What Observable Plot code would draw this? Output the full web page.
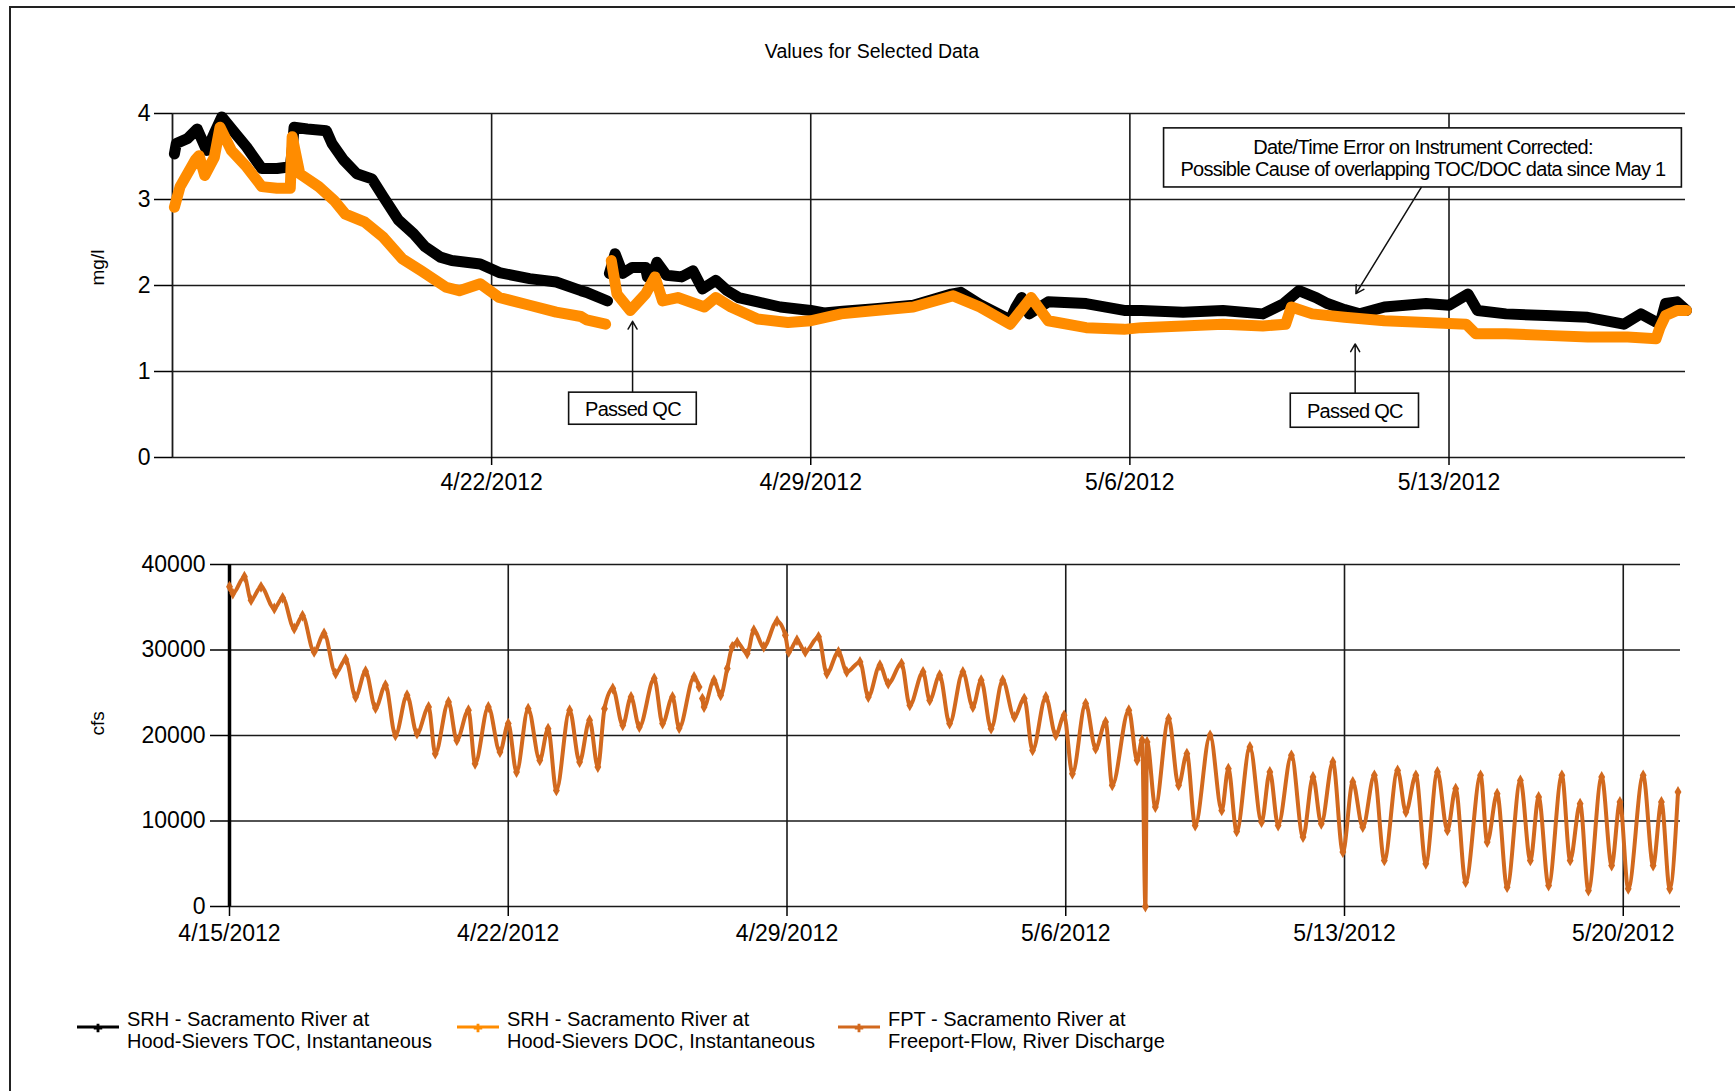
<!DOCTYPE html>
<html><head><meta charset="utf-8">
<script src="https://cdn.jsdelivr.net/npm/d3@7"></script>
<script src="https://cdn.jsdelivr.net/npm/@observablehq/plot@0.6"></script>
<style>
html,body{margin:0;padding:0;background:#fff;}
body{width:1735px;height:1091px;position:relative;overflow:hidden;font-family:"Liberation Sans",Arial,sans-serif;color:#000;}
#frame{position:absolute;left:9px;top:6px;width:1800px;height:1200px;border-left:2px solid #222;border-top:2px solid #222;}
#title{position:absolute;left:0;width:1744px;top:39px;text-align:center;font-size:19.5px;line-height:24px;}
#top{position:absolute;left:0;top:0;}
#bottom{position:absolute;left:0;top:510px;}
.leg{position:absolute;top:1008px;height:44px;}
.leg svg{position:absolute;left:0;top:0;}
.leg div{position:absolute;left:50px;top:0;font-size:20px;line-height:22px;white-space:nowrap;}
</style></head>
<body>
<div id="frame"></div>
<div id="title">Values for Selected Data</div>
<div id="top"></div>
<div id="bottom"></div>
<div id="legend"></div>
<script>
// ---------- DATA (hours after 4/15/2012 00:00) ----------
const tocHours = [1,2,8,13,18,22,26,33,39,47,55,62,63,64,71,81,84,90,97,105,111,119,127,133,141,147,162,172,188,202,215,218,229,
  229.5,
  230,233,237,242,249,250,
  251.5,
  253,255,260,268,274,279,286,292,298,308,320,336,343,353,370,390,410,415,425,441,444,447,451,461,481,501,510,532,553,574,585,593,602,608,617,625,638,660,672,682,687,702,723,745,764,773,783,786,792,797];
const tocValues = [3.53,3.65,3.71,3.82,3.57,3.77,3.96,3.77,3.61,3.36,3.36,3.38,3.57,3.84,3.82,3.80,3.65,3.46,3.30,3.24,3.03,2.76,2.60,2.45,2.33,2.29,2.25,2.15,2.08,2.04,1.94,1.92,1.82,
  null,
  2.14,2.37,2.14,2.21,2.21,2.10,
  null,
  2.15,2.27,2.12,2.10,2.17,1.96,2.06,1.94,1.86,1.81,1.75,1.71,1.68,1.70,1.73,1.77,1.90,1.92,1.78,1.60,1.75,1.86,1.67,1.81,1.79,1.71,1.71,1.69,1.71,1.67,1.79,1.94,1.86,1.79,1.72,1.67,1.75,1.79,1.77,1.90,1.71,1.67,1.65,1.63,1.55,1.67,1.55,1.79,1.81,1.71];

const docHours = [1,4,12,14,17,22,25,31,39,47,55,62,63,67,77,85,91,101,111,121,131,144,151,162,172,188,202,215,218,228,
  229.5,
  231,234,241,249,254,258,266,280,286,294,308,324,336,352,370,390,411,425,441,452,461,481,501,510,532,553,574,586,589,600,617,638,660,681,686,702,723,745,766,781,783,786,792,797];
const docValues = [2.91,3.15,3.46,3.51,3.28,3.49,3.84,3.57,3.38,3.15,3.13,3.13,3.73,3.30,3.15,2.99,2.83,2.74,2.56,2.31,2.17,1.98,1.94,2.02,1.86,1.77,1.69,1.64,1.60,1.55,
  null,
  2.29,1.90,1.71,1.90,2.10,1.82,1.86,1.75,1.86,1.75,1.61,1.57,1.59,1.67,1.71,1.75,1.88,1.75,1.55,1.86,1.59,1.51,1.49,1.51,1.53,1.55,1.53,1.55,1.75,1.67,1.63,1.59,1.57,1.55,1.44,1.44,1.42,1.40,1.40,1.38,1.51,1.65,1.71,1.71];

const flowHours = [0,2,9,13,19,27,32,39,44,51,57,64,70,76,82,88,94,100,107,113,120,124,132,137,144,148,156,163,168,173,
  180,187,192,197,205,211,217,222,226,231,237,242,247,256,261,267,271,280,283,284,285,286,292,296,300,303,306,312,316,322,
  330,335,337,342,347,355,360,367,372,380,385,392,397,405,410,418,422,428,434,442,448,453,459,466,473,479,484,492,498,503,
  508,516,522,528,532,542,547,550,552,553,558,566,572,577,582,591,598,602,607,615,622,627,632,640,647,653,658,665,671,677,
  683,690,696,704,709,715,721,728,734,739,745,754,758,764,770,778,784,789,795,803,808,814,819,827,833,838,843,852,858,863,868,873];
const flowValues = [37400,36600,38560,35830,37390,34850,36100,32510,34000,29780,31930,27240,28920,24510,27520,23220,25880,20020,24710,20220,
  23340,17880,23930,19440,22950,16700,23340,18070,21390,15730,23140,17100,20800,13580,22950,16900,21780,16310,23140,25490,
  21190,24510,21000,26660,21390,24510,20880,26850,25680,null,24320,23340,26460,24710,27830,30370,30870,29590,32320,30370,
  33370,31730,29780,31150,29780,31540,27240,29780,27440,28610,24510,28220,26070,28410,23530,27440,24120,27050,21390,27440,
  23340,26460,20800,26460,22170,24320,18270,24510,20020,22360,15530,23730,18460,21580,14170,22950,17100,19440,0,19240,
  11630,21970,14170,17880,9480,20020,11240,16120,8780,18660,9870,15730,9480,17680,8120,15140,9680,16900,6360,14560,
  9290,15340,5390,15920,11050,15340,5000,15730,8900,13780,2850,15340,7530,13190,2260,14750,5390,12800,2460,15340,
  5390,12020,1870,15140,4800,12220,2070,15340,4800,12220,2070,13390];

const topTickDays = [7,14,21,28];             // 4/22, 4/29, 5/6, 5/13 (days after 4/15)
const bottomTickDays = [0,7,14,21,28,35];     // 4/15 ... 5/20
const topYTicks = [0,1,2,3,4];
const bottomYTicks = [0,10000,20000,30000,40000];

// annotations (hours, mg/l)
const boxText = ["Passed QC","Passed QC","Date/Time Error on Instrument Corrected:\nPossible Cause of overlapping TOC/DOC data since May 1"];
const boxH1 = [208.8,588.7,522];
const boxH2 = [276,656.2,794.6];
const boxV1 = [0.381,0.346,3.14];
const boxV2 = [0.754,0.742,3.827];
const arrowH1 = [242.2,622.6,657.4];
const arrowV1 = [0.754,0.742,3.14];
const arrowH2 = [242.2,622.6,623];
const arrowV2 = [1.584,1.321,1.905];

const legendLine1 = ["SRH - Sacramento River at","SRH - Sacramento River at","FPT - Sacramento River at"];
const legendLine2 = ["Hood-Sievers TOC, Instantaneous","Hood-Sievers DOC, Instantaneous","Freeport-Flow, River Discharge"];

// ---------- BUILD ----------
const T0 = Date.UTC(2012,3,15);
const hr = h => new Date(T0 + h*3600e3);
const fmt = d => `${d.getUTCMonth()+1}/${d.getUTCDate()}/${d.getUTCFullYear()}`;
const FONT = '"Liberation Sans", Arial, sans-serif';
const cToc = "#000000", cDoc = "#FF8C00", cFlow = "#D2691E";
const gridC = "#1a1a1a";

const toc = tocHours.map((h,i)=>({t:hr(h), v:tocValues[i]}));
const doc = docHours.map((h,i)=>({t:hr(h), v:docValues[i]}));
const flow = flowHours.map((h,i)=>({t:hr(h), v:flowValues[i]}));
const boxes = boxText.map((s,i)=>({x1:hr(boxH1[i]),x2:hr(boxH2[i]),y1:boxV1[i],y2:boxV2[i],text:s,xm:hr((boxH1[i]+boxH2[i])/2),ym:(boxV1[i]+boxV2[i])/2}));
const arrows = arrowH1.map((h,i)=>({x1:hr(h),y1:arrowV1[i],x2:hr(arrowH2[i]),y2:arrowV2[i]}));
const topTicks = topTickDays.map(d=>hr(d*24));
const botTicks = bottomTickDays.map(d=>hr(d*24));

const topPlot = Plot.plot({
  width:1735, height:510,
  marginLeft:172, marginRight:50, marginTop:113, marginBottom:53,
  style:{fontFamily:FONT, fontSize:"23px", color:"#000", background:"transparent", overflow:"visible"},
  x:{type:"utc", domain:[hr(0), hr(796.5)]},
  y:{domain:[0,4]},
  marks:[
    Plot.ruleY(topYTicks, {stroke:gridC, strokeWidth:1.6}),
    Plot.ruleX(topTicks, {stroke:gridC, strokeWidth:1.6}),
    Plot.ruleX([hr(0)], {stroke:gridC, strokeWidth:1.8}),
    Plot.axisY({ticks:topYTicks, tickSize:18, tickPadding:4, tickFormat:d=>String(d), fontSize:23, label:null, strokeWidth:1.5}),
    Plot.axisX({ticks:topTicks, tickSize:8, tickPadding:8, tickFormat:fmt, fontSize:23, label:null, strokeWidth:1.5}),
    Plot.lineY(toc, {x:"t", y:"v", stroke:cToc, strokeWidth:11, strokeLinejoin:"round", strokeLinecap:"round"}),
    Plot.lineY(doc, {x:"t", y:"v", stroke:cDoc, strokeWidth:11, strokeLinejoin:"round", strokeLinecap:"round"}),
    Plot.arrow(arrows, {x1:"x1", y1:"y1", x2:"x2", y2:"y2", stroke:"#111", strokeWidth:1.5, headLength:9}),
    Plot.rect(boxes, {x1:"x1", x2:"x2", y1:"y1", y2:"y2", fill:"#fff", stroke:"#111", strokeWidth:1.6}),
    Plot.text(boxes, {x:"xm", y:"ym", text:"text", fontSize:20, lineHeight:1.12, fill:"#000"}),
    Plot.text(["mg/l"], {frameAnchor:"left", dx:-75, rotate:-90, fontSize:19, fill:"#000"})
  ]
});
document.getElementById("top").appendChild(topPlot);

const botPlot = Plot.plot({
  width:1735, height:450,
  marginLeft:229, marginRight:55, marginTop:54, marginBottom:54,
  style:{fontFamily:FONT, fontSize:"23px", color:"#000", background:"transparent", overflow:"visible"},
  x:{type:"utc", domain:[hr(0), hr(874.5)]},
  y:{domain:[0,40000]},
  marks:[
    Plot.ruleY(bottomYTicks, {stroke:gridC, strokeWidth:1.6}),
    Plot.ruleX(botTicks.slice(1), {stroke:gridC, strokeWidth:1.6}),
    Plot.ruleX([hr(0)], {stroke:"#000", strokeWidth:3.5}),
    Plot.axisY({ticks:bottomYTicks, tickSize:19, tickPadding:5, tickFormat:d=>String(d), fontSize:23, label:null, strokeWidth:1.5}),
    Plot.axisX({ticks:botTicks, tickSize:10, tickPadding:8, tickFormat:fmt, fontSize:23, label:null, strokeWidth:1.5}),
    Plot.lineY(flow, {x:"t", y:"v", stroke:cFlow, strokeWidth:4, curve:"monotone-x", strokeLinejoin:"round"}),
    Plot.dot(flow, {x:"t", y:"v", symbol:"diamond", fill:cFlow, r:3.6}),
    Plot.text(["cfs"], {frameAnchor:"left", dx:-132, rotate:-90, fontSize:19, fill:"#000"})
  ]
});
document.getElementById("bottom").appendChild(botPlot);

// condensed annotation text
d3.select(topPlot).selectAll("text")
  .filter(function(){ return /Passed|Date\/Time|Possible/.test(this.textContent); })
  .style("letter-spacing","-0.72px");

// legend
const legX = [77, 457, 838];
const legC = [cToc, cDoc, cFlow];
const legend = d3.select("#legend");
legendLine1.forEach((l1,i)=>{
  const item = legend.append("div").attr("class","leg").style("left", legX[i]+"px");
  const svg = item.append("svg").attr("width",44).attr("height",40);
  svg.append("line").attr("x1",0).attr("x2",42).attr("y1",19).attr("y2",19).attr("stroke",legC[i]).attr("stroke-width",3);
  svg.append("path").attr("d",d3.symbol(d3.symbolCross, 40)()).attr("transform","translate(21,20)").attr("fill",legC[i]);
  item.append("div").html(l1 + "<br>" + legendLine2[i]);
});
</script>
</body></html>
